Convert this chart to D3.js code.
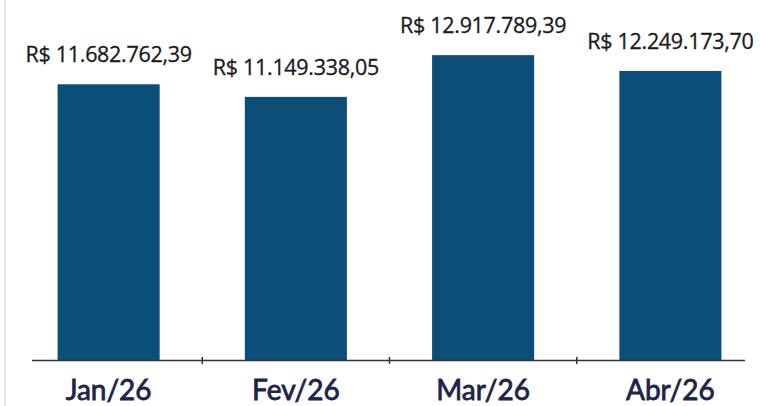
<!DOCTYPE html>
<html>
<head>
<meta charset="utf-8">
<script src="https://cdn.jsdelivr.net/npm/d3@7"></script>
<style>
  html, body { margin: 0; padding: 0; background: #fff; }
  #chart { width: 760px; height: 406px; position: relative; }
  .frame { position: absolute; left: 4px; top: 0; width: 2px; height: 406px; background: #e6e6e6; }
</style>
</head>
<body>
<div id="chart"><div class="frame"></div></div>
<script>
const months = ["Jan/26", "Fev/26", "Mar/26", "Abr/26"];
const values = [11682762.39, 11149338.05, 12917789.39, 12249173.70];
const valueLabels = ["R$ 11.682.762,39", "R$ 11.149.338,05", "R$ 12.917.789,39", "R$ 12.249.173,70"];

const width = 760;
const height = 406;
const baseline = 360;

const data = months.map((m, i) => [m, values[i], valueLabels[i]]);

const svg = d3.select("#chart")
  .append("svg")
  .attr("width", width)
  .attr("height", height)
  .style("position", "absolute")
  .style("left", 0)
  .style("top", 0);

const xScale = d3.scaleBand()
  .domain(months)
  .range([15, 764])
  .paddingInner(0.455)
  .paddingOuter(0.2275);

const yScale = d3.scaleLinear()
  .domain([0, 15000000])
  .range([baseline, 6]);

svg.selectAll("rect.bar")
  .data(data)
  .enter()
  .append("rect")
  .attr("class", "bar")
  .attr("x", (d) => xScale(d[0]))
  .attr("y", (d) => yScale(d[1]))
  .attr("width", xScale.bandwidth())
  .attr("height", (d) => baseline - yScale(d[1]))
  .style("fill", "#0b4f78");

// value labels above bars
svg.selectAll("text.val")
  .data(data)
  .enter()
  .append("text")
  .attr("class", "val")
  .attr("x", (d) => xScale(d[0]) + xScale.bandwidth() / 2)
  .attr("y", (d) => yScale(d[1]) - 22)
  .style("text-anchor", "middle")
  .style("font-family", "'Open Sans', sans-serif")
  .style("font-size", "21.5px")
  .style("letter-spacing", "-0.3px")
  .style("fill", "#1a1a1a")
  .style("stroke", "#1a1a1a")
  .style("stroke-width", 0.3)
  .text((d) => d[2]);

// axis line with small ticks between categories
svg.append("line")
  .attr("x1", 32)
  .attr("x2", 745)
  .attr("y1", baseline + 0.5)
  .attr("y2", baseline + 0.5)
  .style("stroke", "#333")
  .style("stroke-width", 1.6);

const step = xScale.step();
svg.selectAll("line.tick")
  .data(months.slice(1))
  .enter()
  .append("line")
  .attr("class", "tick")
  .attr("x1", (d) => xScale(d) - (step - xScale.bandwidth()) / 2)
  .attr("x2", (d) => xScale(d) - (step - xScale.bandwidth()) / 2)
  .attr("y1", baseline - 3)
  .attr("y2", baseline + 4)
  .style("stroke", "#333")
  .style("stroke-width", 1.5);

svg.selectAll("text.cat")
  .data(months)
  .enter()
  .append("text")
  .attr("class", "cat")
  .attr("x", (d) => xScale(d) + xScale.bandwidth() / 2)
  .attr("y", 400)
  .style("text-anchor", "middle")
  .style("font-family", "Lato, sans-serif")
  .style("font-size", "28px")
  .style("fill", "#1c2547")
  .style("stroke", "#1c2547")
  .style("stroke-width", 0.8)
  .text((d) => d);
</script>
</body>
</html>
